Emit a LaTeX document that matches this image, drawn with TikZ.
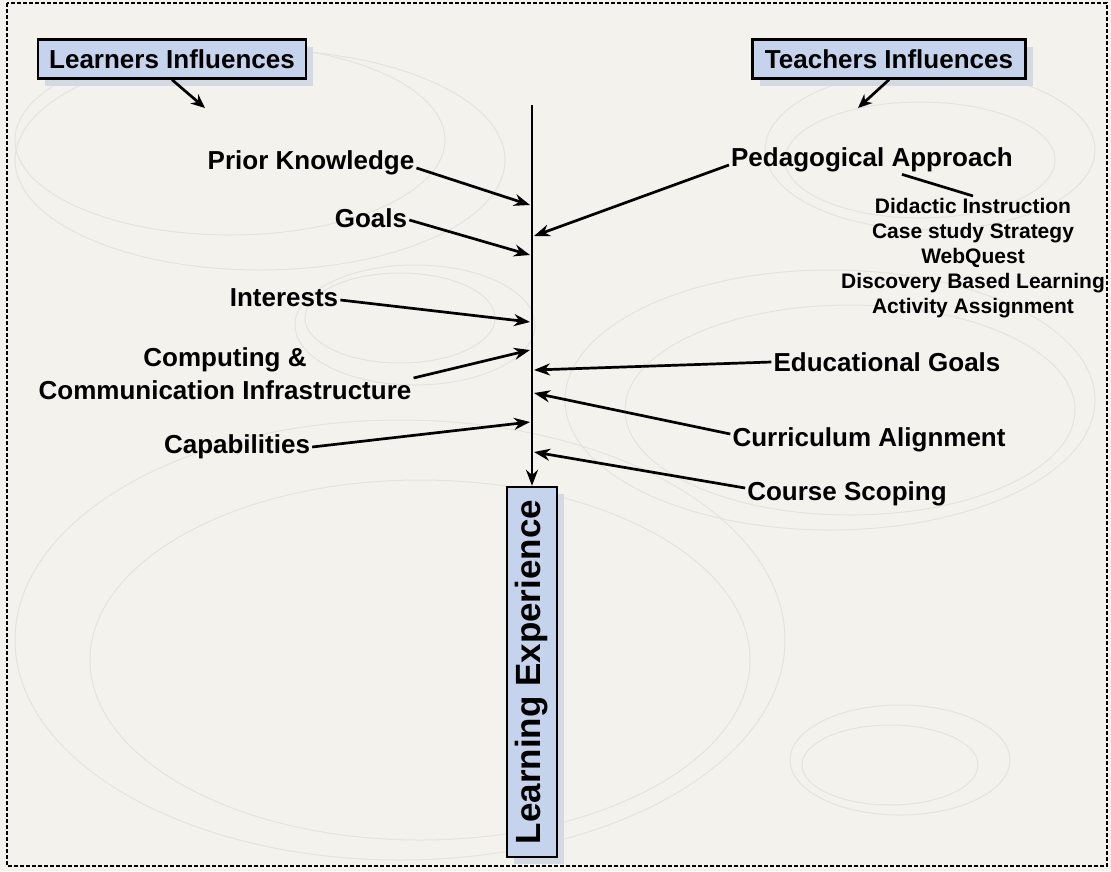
\documentclass[tikz,border=0pt]{standalone}
\usepackage{fontspec}
\setmainfont{Liberation Sans}
\usetikzlibrary{arrows.meta,positioning,shadows}
\definecolor{boxblue}{RGB}{197,211,236}
\definecolor{paper}{RGB}{243,242,236}
\definecolor{ringgray}{RGB}{228,228,222}
\definecolor{shadowblue}{RGB}{212,218,228}

\tikzset{
  influence/.style={draw, line width=2.4pt, fill=boxblue, inner sep=0pt,
    font=\bfseries\fontsize{26}{30}\selectfont,
    drop shadow={shadow xshift=7pt, shadow yshift=-7pt, fill=shadowblue, opacity=1}},
  factor/.style={font=\bfseries\fontsize{26}{33}\selectfont, align=center, inner sep=2pt},
  method/.style={font=\bfseries\fontsize{21}{25}\selectfont, align=center, inner sep=2pt},
  feed/.style={line width=2.7pt, -{Stealth[length=16pt,width=12pt]}},
  ring/.style={draw=ringgray, line width=1pt},
}

\begin{document}
\begin{tikzpicture}[x=1pt,y=-1pt]
	\useasboundingbox (0,0) rectangle (1111,871);
	\fill[paper] (0,0) rectangle (1111,871);
	
	% faint rings in the background
	\draw[ring] (230,140) ellipse (215 and 95);
	\draw[ring] (260,160) ellipse (245 and 110);
	\draw[ring] (930,150) ellipse (165 and 80);
	\draw[ring] (920,160) ellipse (135 and 58);
	\draw[ring] (415,325) ellipse (120 and 60);
	\draw[ring] (400,318) ellipse (95 and 45);
	\draw[ring] (830,400) ellipse (265 and 130);
	\draw[ring] (850,410) ellipse (225 and 105);
	\draw[ring] (400,640) ellipse (385 and 220);
	\draw[ring] (420,660) ellipse (330 and 180);
	\draw[ring] (900,760) ellipse (110 and 55);
	\draw[ring] (890,765) ellipse (88 and 40);
	
	% frame
	\draw[line width=1.8pt, dash pattern=on 4pt off 2pt] (7,3) rectangle (1107,866);
	
	% influence headings
	\node[influence, minimum width=268pt, minimum height=39pt] (lrn) at (172,59) {Learners Influences};
	\node[influence, minimum width=273pt, minimum height=39pt] (tch) at (889,59) {Teachers Influences};
	\coordinate (lrnend) at (205,108);
	\coordinate (tchend) at (858,108);
	\draw[line width=2.7pt, -{Stealth[length=14pt,width=12pt]}] (lrn.south) -- (lrnend);
	\draw[line width=2.7pt, -{Stealth[length=14pt,width=12pt]}] (tch.south) -- (tchend);
	
	% outcome box and spine
	\node[influence, rotate=90, minimum width=370pt, minimum height=50pt,
	      font=\bfseries\fontsize{35}{40}\selectfont] (learn) at (532,672) {Learning Experience};
	\coordinate (top) at (532,105);
	\draw[feed] (top) -- (learn.east);
	
	% learner side
	\node[factor] (prior) at (311,163) {Prior Knowledge};
	\node[factor] (goals) at (371,218) {Goals};
	\node[factor] (interests) at (284,298) {Interests};
	\node[factor] (infra) at (225,374) {Computing \&\\Communication Infrastructure};
	\node[factor] (capab) at (237,447) {Capabilities};
	
	\coordinate (l1) at (530,205);
	\coordinate (l2) at (530,255);
	\coordinate (l3) at (530,322);
	\coordinate (l4) at (530,350);
	\coordinate (l5) at (530,422);
	\draw[feed] ([yshift=-5pt]prior.east) -- (l1);
	\draw[feed] ([yshift=-2pt]goals.east) -- (l2);
	\draw[feed] ([yshift=-2pt]interests.east) -- (l3);
	\draw[feed] ([yshift=-4pt]infra.east) -- (l4);
	\draw[feed] (capab.east) -- (l5);
	
	% teacher side
	\node[factor] (peda) at (872,160) {Pedagogical Approach};
	\node[method] (methods) at (973,258) {Didactic Instruction\\Case study Strategy\\WebQuest\\Discovery Based Learning\\Activity Assignment};
	\node[factor] (edu) at (887,362) {Educational Goals};
	\node[factor] (curric) at (869,440) {Curriculum Alignment};
	\node[factor] (course) at (847,494) {Course Scoping};
	
	\coordinate (r1) at (534,236);
	\coordinate (r2) at (534,370);
	\coordinate (r3) at (534,393);
	\coordinate (r4) at (534,452);
	\draw[feed] ([yshift=-5pt]peda.west) -- (r1);
	\draw[feed] (edu.west) -- (r2);
	\draw[feed] ([yshift=6pt]curric.west) -- (r3);
	\draw[feed] ([yshift=6pt]course.west) -- (r4);
	\draw[line width=2.7pt] ([xshift=30pt]peda.south) -- (methods.north);
\end{tikzpicture}
\end{document}
